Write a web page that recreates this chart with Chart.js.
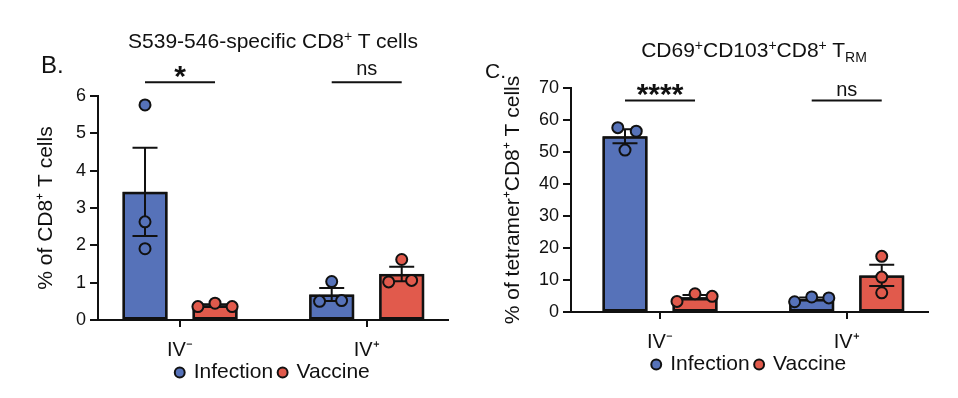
<!DOCTYPE html>
<html>
<head>
<meta charset="utf-8">
<script src="https://cdn.jsdelivr.net/npm/chart.js@4.4.1/dist/chart.umd.min.js"></script>
<style>
  body { margin: 0; background: #fff; }
  #wrap { position: relative; width: 958px; height: 398px; font-family: "Liberation Sans", Arial, sans-serif; color: #111; }
  .panel { position: absolute; top: 0; height: 398px; }
  .letter { position: absolute; line-height: 1; }
  .title { position: absolute; font-size: 21px; line-height: 1; white-space: nowrap; transform: translateX(-50%); }
  .title sup { font-size: 14px; vertical-align: 7px; }
  .title sub { font-size: 14px; vertical-align: -5px; }
</style>
</head>
<body>
<div id="wrap">
  <div class="panel" style="left:0;width:480px"><canvas id="chartB"></canvas></div>
  <div class="panel" style="left:480px;width:478px"><canvas id="chartC"></canvas></div>
  <div class="letter" style="left:41px;top:53px;font-size:24px">B.</div>
  <div class="letter" style="left:485px;top:60px;font-size:21px">C.</div>
  <div class="title" style="left:273px;top:29px">S539-546-specific CD8<sup>+</sup> T cells</div>
  <div class="title" style="left:754px;top:38px">CD69<sup>+</sup>CD103<sup>+</sup>CD8<sup>+</sup> T<sub>RM</sub></div>
</div>
<script>
const groups = ['IV\u207B', 'IV\u207A'];
const seriesNames = ['Infection', 'Vaccine'];

// panel B: S539-546-specific, % of CD8+ (one value per mouse)
const bInfection = [[5.76, 2.63, 1.91], [1.03, 0.50, 0.52]];
const bVaccine = [[0.36, 0.45, 0.36], [1.62, 1.02, 1.06]];
const bTicks = [0, 1, 2, 3, 4, 5, 6];
const bSigLabels = ['*', 'ns'];
const bSigLevel = 6.37;

// panel C: CD69+CD103+ TRM, % of tetramer+CD8+
const cInfection = [[57.6, 56.5, 50.6], [3.2, 4.7, 4.4]];
const cVaccine = [[3.3, 5.7, 4.9], [17.4, 10.9, 6.0]];
const cTicks = [0, 10, 20, 30, 40, 50, 60, 70];
const cSigLabels = ['****', 'ns'];
const cSigLevel = 66.1;

// horizontal spread of the dots inside a bar (fraction of bar width)
const bSpread = [[[0, 0, 0], [0, -0.27, 0.22]], [[-0.38, 0, 0.38], [0, -0.29, 0.22]]];
const cSpread = [[[-0.16, 0.25, 0], [-0.38, 0, 0.38]], [[-0.4, 0, 0.38], [0, 0, 0]]];

const colors = ['#5672b9', '#e15a4c'];
const ink = '#111';
const FONT = "'Liberation Sans', Arial, sans-serif";

const mean = a => a.reduce((s, v) => s + v, 0) / a.length;
function sem(a) {
  const m = mean(a);
  const sd = Math.sqrt(a.reduce((s, v) => s + (v - m) * (v - m), 0) / (a.length - 1));
  return sd / Math.sqrt(a.length);
}

// bar outlines, SEM whiskers, the individual mice and the significance bars
const dotsPlugin = {
  id: 'dots',
  afterDatasetsDraw(chart, args, opts) {
    const ctx = chart.ctx;
    const yScale = chart.scales.y;
    ctx.save();
    ctx.strokeStyle = ink;
    chart.data.datasets.forEach((ds, di) => {
      const meta = chart.getDatasetMeta(di);
      meta.data.forEach((bar, gi) => {
        const {x, y, base, width} = bar.getProps(['x', 'y', 'base', 'width']);
        ctx.lineWidth = 2.5;
        ctx.strokeRect(x - width / 2 + 1.25, y + 1.25, width - 2.5, base - y - 1.25);
        const pts = ds.points[gi];
        const m = mean(pts), e = sem(pts);
        const yt = yScale.getPixelForValue(m + e);
        const yb = yScale.getPixelForValue(m - e);
        ctx.lineWidth = 2;
        ctx.beginPath();
        ctx.moveTo(x, yt); ctx.lineTo(x, yb);
        ctx.moveTo(x - 12.5, yt); ctx.lineTo(x + 12.5, yt);
        ctx.moveTo(x - 12.5, yb); ctx.lineTo(x + 12.5, yb);
        ctx.stroke();
        pts.forEach((v, k) => {
          const px = x + opts.spread[di][gi][k] * width;
          ctx.beginPath();
          ctx.arc(px, yScale.getPixelForValue(v), 5.5, 0, Math.PI * 2);
          ctx.fillStyle = ds.backgroundColor;
          ctx.fill();
          ctx.stroke();
        });
      });
    });
    // significance
    const a = chart.getDatasetMeta(0).data;
    const b = chart.getDatasetMeta(1).data;
    const ly = yScale.getPixelForValue(opts.sigLevel);
    ctx.fillStyle = ink;
    ctx.textAlign = 'center';
    ctx.textBaseline = 'alphabetic';
    ctx.lineWidth = 2;
    opts.sigLabels.forEach((lab, gi) => {
      ctx.beginPath();
      ctx.moveTo(a[gi].x, ly); ctx.lineTo(b[gi].x, ly);
      ctx.stroke();
      const cx = (a[gi].x + b[gi].x) / 2;
      if (lab === 'ns') {
        ctx.font = '20px ' + FONT;
        ctx.fillText(lab, cx, ly + opts.nsShift);
      } else {
        ctx.font = 'bold 30px ' + FONT;
        ctx.fillText(lab, cx, ly + 4);
      }
    });
    ctx.restore();
  }
};

function makeChart(id, inf, vac, ticks, sigLabels, sigLevel, spread, yTitle, lay) {
  const datasets = [inf, vac].map((pts, i) => ({
    label: seriesNames[i],
    data: pts.map(mean),
    points: pts,
    backgroundColor: colors[i],
    borderColor: ink,
    borderWidth: 2,
    borderSkipped: false,
    barPercentage: 0.643,
    categoryPercentage: 0.75
  }));
  return new Chart(document.getElementById(id), {
    type: 'bar',
    data: { labels: groups, datasets },
    plugins: [dotsPlugin],
    options: {
      responsive: true,
      maintainAspectRatio: false,
      animation: false,
      layout: { padding: lay.padding },
      plugins: {
        tooltip: { enabled: false },
        legend: {
          position: 'bottom',
          fullSize: false,
          labels: {
            usePointStyle: true,
            pointStyle: 'circle',
            boxWidth: 7,
            boxHeight: 7,
            padding: 6,
            color: ink,
            font: { family: FONT, size: 21 }
          }
        },
        dots: { spread, sigLabels, sigLevel, nsShift: lay.nsShift }
      },
      scales: {
        x: {
          offset: true,
          afterBuildTicks: s => { s._startValue = lay.catStart; s._valueRange = lay.catRange; },
          afterFit: s => { s.height = 36; },
          border: { color: ink, width: 2 },
          grid: { display: true, drawOnChartArea: false, offset: false, tickLength: 7, color: ink, lineWidth: 2 },
          ticks: { color: ink, padding: 11, font: { family: FONT, size: 20 } }
        },
        y: {
          min: ticks[0],
          max: ticks[ticks.length - 1],
          afterFit: s => { s.width = lay.yWidth; },
          border: { color: ink, width: 2 },
          grid: { drawOnChartArea: false, tickLength: 8, color: ink, lineWidth: 2 },
          ticks: { stepSize: ticks[1] - ticks[0], color: ink, padding: 4, font: { family: FONT, size: 18 } },
          title: { display: true, text: yTitle, color: ink, padding: 0, font: { family: FONT, size: 21 } }
        }
      }
    }
  });
}

makeChart('chartB', bInfection, bVaccine, bTicks, bSigLabels, bSigLevel, bSpread,
  '% of CD8\u207A T cells',
  { padding: { left: 34, right: 32, top: 96, bottom: 5 }, yWidth: 64, catStart: -0.4393, catRange: 1.8747, nsShift: -7 });

makeChart('chartC', cInfection, cVaccine, cTicks, cSigLabels, cSigLevel, cSpread,
  '% of tetramer\u207ACD8\u207A T cells',
  { padding: { left: 21, right: 30, top: 88, bottom: 13 }, yWidth: 70, catStart: -0.4767, catRange: 1.912, nsShift: -4 });
</script>
</body>
</html>
